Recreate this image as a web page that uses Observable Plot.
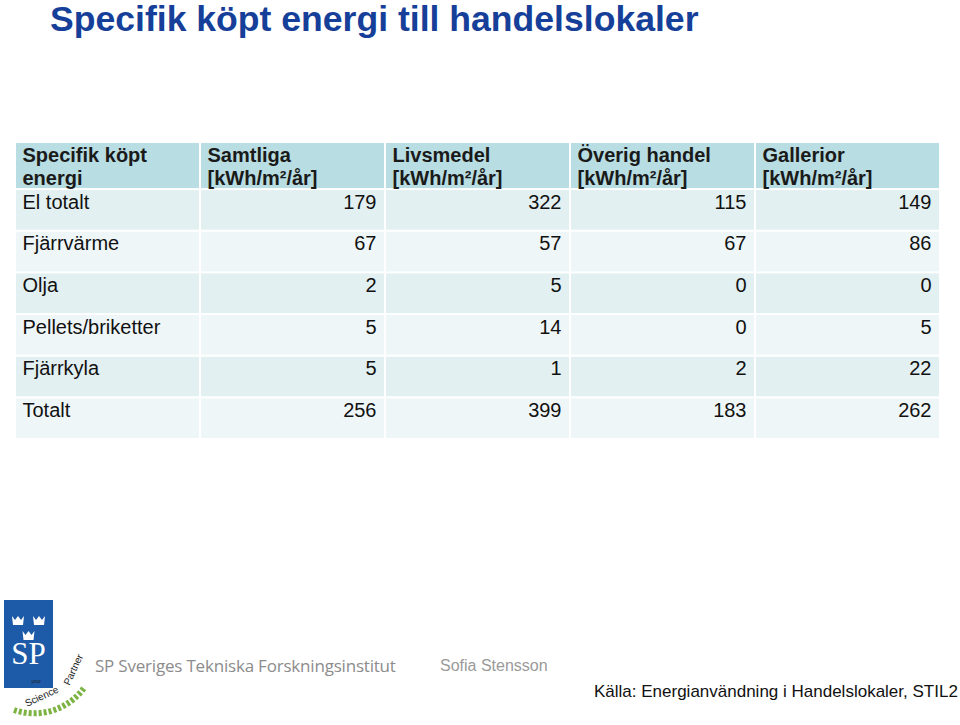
<!DOCTYPE html>
<html>
<head>
<meta charset="utf-8">
<script src="https://cdn.jsdelivr.net/npm/d3@7"></script>
<script src="https://cdn.jsdelivr.net/npm/@observablehq/plot@0.6"></script>
<style>
  html, body { margin: 0; padding: 0; background: #fff; }
  #page { position: relative; width: 960px; height: 725px; overflow: hidden; font-family: "Liberation Sans", Arial, sans-serif; }
  #page .abs { position: absolute; white-space: nowrap; line-height: 1; }
  #title { left: 50px; top: 2px; font-size: 35.6px; font-weight: bold; color: #163f99; }
  #chart { position: absolute; left: 0; top: 130px; }
  #org { left: 95px; top: 656.5px; font-family: "Open Sans", "Noto Sans", sans-serif; font-size: 17px; color: #8c8c8c; letter-spacing: -0.2px; }
  #author { left: 440px; top: 657.5px; font-size: 16px; color: #9a9a9a; }
  #source { left: 594px; top: 682.6px; font-size: 17px; color: #111; }
  #logo { position: absolute; left: 0; top: 596px; }
</style>
</head>
<body>
<div id="page">
  <div id="chart"></div>
  <div id="title" class="abs">Specifik köpt energi till handelslokaler</div>
  <svg id="logo" width="92" height="129" viewBox="0 0 92 129">
    <defs>
      <path id="crown" d="M0,0 L3,4 L6,0 L9,4 L12,0 L11,9 L1,9 Z" fill="#fff"/>
    </defs>
    <rect x="4" y="4" width="49" height="88" fill="#1d5ba8"/>
    <use href="#crown" x="12" y="20"/>
    <use href="#crown" x="33" y="20"/>
    <use href="#crown" x="22.5" y="35"/>
    <text x="28.5" y="68" text-anchor="middle" fill="#fff" font-family="Liberation Serif, serif" font-size="31">SP</text>
    <path d="M14,114 A62,62 0 0 0 84,92" fill="none" stroke="#7cb342" stroke-width="6" stroke-dasharray="3 2"/>
    <text x="36" y="87" text-anchor="middle" font-family="Liberation Sans, Arial, sans-serif" font-size="5" fill="#222">your</text>
    <text transform="translate(42,101) rotate(-25)" text-anchor="middle" dominant-baseline="middle" font-family="Liberation Sans, Arial, sans-serif" font-size="10" fill="#222">Science</text>
    <text transform="translate(74,74) rotate(-65)" text-anchor="middle" dominant-baseline="middle" font-family="Liberation Sans, Arial, sans-serif" font-size="10" fill="#222">Partner</text>
  </svg>
  <div id="org" class="abs">SP Sveriges Tekniska Forskningsinstitut</div>
  <div id="author" class="abs">Sofia Stensson</div>
  <div id="source" class="abs">Källa: Energianvändning i Handelslokaler, STIL2</div>
</div>
<script>
// ---- data ----
const columns = ["Specifik köpt energi", "Samtliga", "Livsmedel", "Överig handel", "Gallerior"];
const headerLabels = ["Specifik köpt\nenergi", "Samtliga\n[kWh/m²/år]", "Livsmedel\n[kWh/m²/år]", "Överig handel\n[kWh/m²/år]", "Gallerior\n[kWh/m²/år]"];
const rows = ["El totalt", "Fjärrvärme", "Olja", "Pellets/briketter", "Fjärrkyla", "Totalt"];
const samtliga = [179, 67, 2, 5, 5, 256];
const livsmedel = [322, 57, 5, 14, 1, 399];
const overigHandel = [115, 67, 0, 0, 2, 183];
const gallerior = [149, 86, 0, 5, 22, 262];

// ---- layout (row units) ----
const headerUnits = 1.13;
const series = [samtliga, livsmedel, overigHandel, gallerior];
const fills = {header: "#b8dde2", odd: "#e3f0f2", even: "#eff6f8"};

const cells = [];
columns.forEach(c => cells.push({col: c, top: 0, bottom: headerUnits, fill: fills.header}));
rows.forEach((r, i) => columns.forEach(c => cells.push({
  col: c, top: headerUnits + i, bottom: headerUnits + i + 1, fill: i % 2 === 0 ? fills.odd : fills.even
})));

const headerTexts = columns.map((c, j) => ({col: c, y: 0, text: headerLabels[j]}));
const rowTexts = rows.map((r, i) => ({col: columns[0], y: headerUnits + i, text: r}));
const valueTexts = [];
series.forEach((vals, j) => vals.forEach((v, i) => valueTexts.push({col: columns[j + 1], y: headerUnits + i, text: String(v)})));

const bandHalf = (960 - 15 - 20) / columns.length / 2;

const chart = Plot.plot({
  width: 960,
  height: 320,
  marginTop: 12,
  marginBottom: 11,
  marginLeft: 15,
  marginRight: 20,
  x: {type: "band", domain: columns, padding: 0, axis: null},
  y: {domain: [0, headerUnits + rows.length], reverse: true, axis: null},
  color: {type: "identity"},
  style: {fontFamily: "'Liberation Sans', Arial, sans-serif", background: "transparent"},
  marks: [
    Plot.barY(cells, {x: "col", y1: "top", y2: "bottom", fill: "fill", inset: 1}),
    Plot.text(headerTexts, {x: "col", y: "y", text: "text", textAnchor: "start", lineAnchor: "top",
      dx: -bandHalf + 7, dy: 3, fontSize: 20, fontWeight: "bold", lineHeight: 1.15, fill: "#1a1a1a"}),
    Plot.text(rowTexts, {x: "col", y: "y", text: "text", textAnchor: "start", lineAnchor: "top",
      dx: -bandHalf + 7, dy: 5, fontSize: 20, fill: "#111"}),
    Plot.text(valueTexts, {x: "col", y: "y", text: "text", textAnchor: "end", lineAnchor: "top",
      dx: bandHalf - 9, dy: 5, fontSize: 20, fill: "#111"})
  ]
});
document.getElementById("chart").appendChild(chart);
</script>
</body>
</html>
